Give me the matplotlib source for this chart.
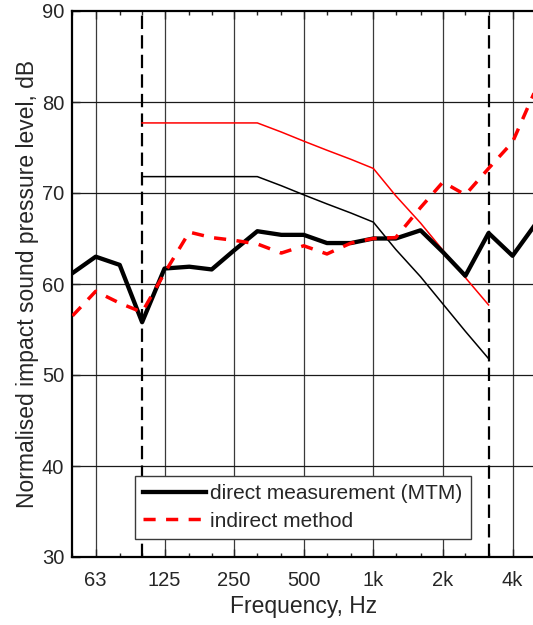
import matplotlib
matplotlib.use("Agg")
import matplotlib.pyplot as plt
from matplotlib.ticker import FixedLocator, NullFormatter

# third-octave band centre frequencies, Hz
freqs = [50, 63, 80, 100, 125, 160, 200, 250, 315, 400, 500, 630, 800,
         1000, 1250, 1600, 2000, 2500, 3150, 4000, 5000]

# normalised impact sound pressure level, dB
direct_mtm = [61.2, 63.0, 62.1, 55.8, 61.7, 61.9, 61.6, 63.7, 65.8, 65.4, 65.4,
              64.5, 64.5, 65.0, 65.0, 65.9, 63.5, 60.9, 65.6, 63.1, 66.5]
indirect = [56.5, 59.2, 57.9, 56.9, 61.2, 65.7, 65.1, 64.8, 64.4, 63.4, 64.2,
            63.3, 64.5, 65.0, 65.1, 68.4, 71.2, 69.8, 72.7, 75.6, 81.2]

# shifted reference curves (100 - 3150 Hz)
ref_freqs = [100, 125, 160, 200, 250, 315, 400, 500, 630, 800, 1000,
             1250, 1600, 2000, 2500, 3150]
ref_direct = [71.8, 71.8, 71.8, 71.8, 71.8, 71.8, 70.8, 69.8, 68.8, 67.8, 66.8,
              63.8, 60.8, 57.8, 54.8, 51.8]
ref_indirect = [77.7, 77.7, 77.7, 77.7, 77.7, 77.7, 76.7, 75.7, 74.7, 73.7, 72.7,
                69.7, 66.7, 63.7, 60.7, 57.7]

octave_ticks = [63, 125, 250, 500, 1000, 2000, 4000]
octave_labels = ["63", "125", "250", "500", "1k", "2k", "4k"]
range_limits = [100, 3150]

txt = "#262626"
plt.rcParams["font.family"] = ["Liberation Sans", "DejaVu Sans"]

fig = plt.figure(figsize=(5.33, 6.25), dpi=100)
ax = fig.add_axes([0.136, 0.1088, 0.8677, 0.8736])

ax.set_xscale("log")
ax.set_xlim(50, 5000)
ax.set_ylim(30, 90)

# grid
for f in octave_ticks:
    ax.axvline(f, color="#3a3a3a", lw=0.9, zorder=1)
for v in range(40, 90, 10):
    ax.axhline(v, color="#1a1a1a", lw=0.9, zorder=1)

for f in range_limits:
    ax.axvline(f, color="black", lw=1.6, ls=(0, (6, 2.8)), zorder=2)

ax.plot(ref_freqs, ref_direct, color="black", lw=1.1, zorder=3)
ax.plot(ref_freqs, ref_indirect, color="red", lw=1.1, zorder=3)
h1, = ax.plot(freqs, direct_mtm, color="black", lw=3.1, zorder=4,
              label="direct measurement (MTM)")
h2, = ax.plot(freqs, indirect, color="red", lw=2.5, ls=(0, (3.5, 3)), zorder=5,
              label="indirect method")

ax.xaxis.set_major_locator(FixedLocator(octave_ticks))
ax.set_xticklabels(octave_labels)
ax.xaxis.set_minor_locator(FixedLocator(freqs))
ax.xaxis.set_minor_formatter(NullFormatter())
ax.set_yticks(range(30, 91, 10))

ax.tick_params(which="both", direction="in", top=True, right=False,
               colors=txt, labelsize=14.5, width=1.0)
ax.tick_params(which="major", length=6, pad=10)
ax.tick_params(which="minor", length=3)
ax.tick_params(axis="y", pad=6)

for s in ["left", "bottom", "top"]:
    ax.spines[s].set_linewidth(1.6)
    ax.spines[s].set_color("black")
ax.spines["right"].set_visible(False)

ax.set_xlabel("Frequency, Hz", fontsize=16.5, color=txt, labelpad=4)
ax.set_ylabel("Normalised impact sound pressure level, dB", fontsize=16.5,
              color=txt, labelpad=2)

leg = ax.legend(handles=[h1, h2], loc="lower left",
                bbox_to_anchor=(0.135, 0.033), fontsize=15, frameon=True,
                fancybox=False, handlelength=3.0, handletextpad=0.2,
                borderpad=0.4, labelspacing=0.4, borderaxespad=0)
leg.get_frame().set_edgecolor("#3a3a3a")
leg.get_frame().set_linewidth(1.0)
leg.get_frame().set_alpha(1)
for t in leg.get_texts():
    t.set_color(txt)

fig.savefig("out.png", dpi=100)
